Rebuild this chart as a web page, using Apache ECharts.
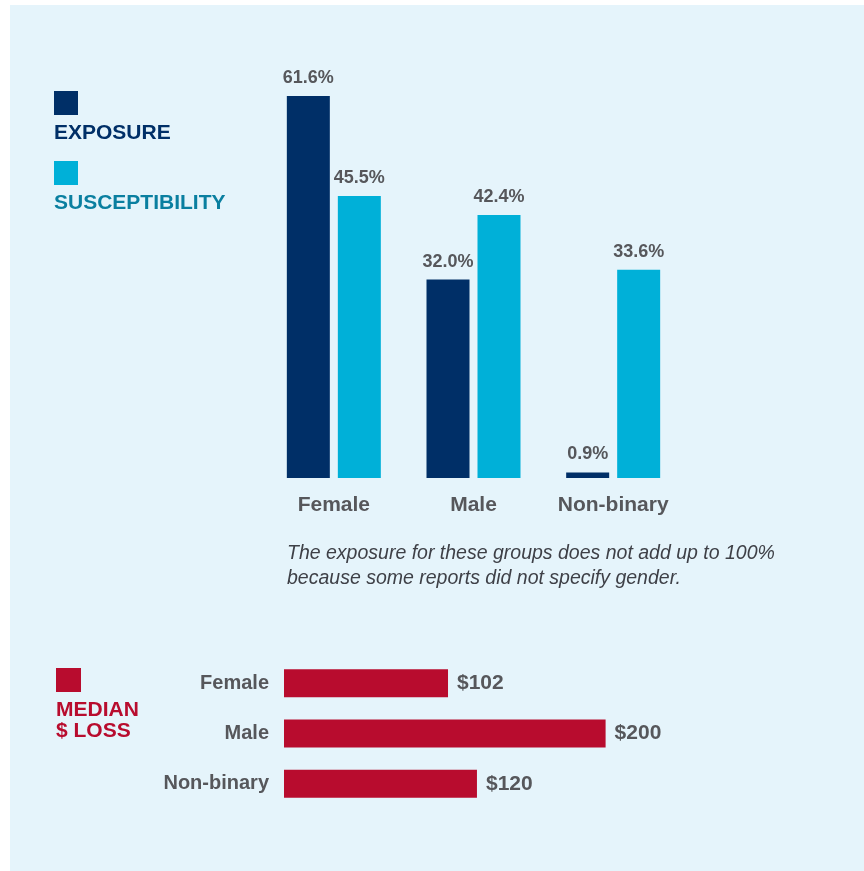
<!DOCTYPE html>
<html>
<head>
<meta charset="utf-8">
<script src="https://cdn.jsdelivr.net/npm/echarts@6/dist/echarts.min.js"></script>
<style>
  html, body { margin: 0; padding: 0; background: #ffffff; }
  #chart { width: 864px; height: 871px; }
</style>
</head>
<body>
<div id="chart"></div>
<script>
// Gender breakdown: exposure and susceptibility (percent)
const groups = ['Female', 'Male', 'Non-binary'];
const exposure = [61.6, 32.0, 0.9];
const susceptibility = [45.5, 42.4, 33.6];

// Median dollar loss by gender
const lossGroups = ['Female', 'Male', 'Non-binary'];
const medianLoss = [102, 200, 120];

const FONT = '"Liberation Sans", Arial, Helvetica, sans-serif';
const NAVY = '#002F67';
const CYAN = '#00B0D8';
const TEAL = '#0A7FA0';
const CRIMSON = '#B80C2E';
const GREY = '#56575B';

const chart = echarts.init(document.getElementById('chart'), null, { renderer: 'canvas' });

chart.setOption({
  backgroundColor: '#ffffff',
  animation: false,
  graphic: [
    { type: 'rect', z: -10, shape: { x: 10, y: 5, width: 854, height: 866 }, style: { fill: '#E5F4FB' } },
    // legend keys for the column chart
    { type: 'rect', shape: { x: 54, y: 91, width: 24, height: 24 }, style: { fill: NAVY } },
    { type: 'text', style: { x: 54, y: 133, text: 'EXPOSURE', font: 'bold 21px ' + FONT, fill: NAVY, textVerticalAlign: 'middle' } },
    { type: 'rect', shape: { x: 54, y: 161, width: 24, height: 24 }, style: { fill: CYAN } },
    { type: 'text', style: { x: 54, y: 203, text: 'SUSCEPTIBILITY', font: 'bold 21px ' + FONT, fill: TEAL, textVerticalAlign: 'middle' } },
    // footnote
    { type: 'text', style: { x: 287, y: 554, text: 'The exposure for these groups does not add up to 100%', font: 'italic 19.5px ' + FONT, fill: '#3E4047', textVerticalAlign: 'middle' } },
    { type: 'text', style: { x: 287, y: 579, text: 'because some reports did not specify gender.', font: 'italic 19.5px ' + FONT, fill: '#3E4047', textVerticalAlign: 'middle' } },
    // legend key for the loss chart
    { type: 'rect', shape: { x: 56, y: 668, width: 25, height: 24 }, style: { fill: CRIMSON } },
    { type: 'text', style: { x: 56, y: 710, text: 'MEDIAN', font: 'bold 21px ' + FONT, fill: CRIMSON, textVerticalAlign: 'middle' } },
    { type: 'text', style: { x: 56, y: 731, text: '$ LOSS', font: 'bold 21px ' + FONT, fill: CRIMSON, textVerticalAlign: 'middle' } }
  ],
  grid: [
    { left: 264, top: 44, width: 419, height: 434 },
    { left: 284, top: 658, width: 402, height: 151 }
  ],
  xAxis: [
    {
      gridIndex: 0, type: 'category', data: groups,
      axisLine: { show: false }, axisTick: { show: false },
      axisLabel: { interval: 0, margin: 17, fontFamily: FONT, fontWeight: 'bold', fontSize: 21, color: GREY }
    },
    {
      gridIndex: 1, type: 'value', min: 0, max: 250, show: false
    }
  ],
  yAxis: [
    { gridIndex: 0, type: 'value', min: 0, max: 70, show: false },
    {
      gridIndex: 1, type: 'category', data: lossGroups, inverse: true,
      axisLine: { show: false }, axisTick: { show: false },
      axisLabel: { interval: 0, margin: 15, fontFamily: FONT, fontWeight: 'bold', fontSize: 20, color: GREY }
    }
  ],
  series: [
    {
      name: 'Exposure', type: 'bar', xAxisIndex: 0, yAxisIndex: 0,
      data: exposure, barWidth: 43, barGap: '18.6%',
      itemStyle: { color: NAVY },
      label: {
        show: true, position: 'top', distance: 9,
        formatter: p => p.value.toFixed(1) + '%',
        fontFamily: FONT, fontWeight: 'bold', fontSize: 18, color: GREY
      }
    },
    {
      name: 'Susceptibility', type: 'bar', xAxisIndex: 0, yAxisIndex: 0,
      data: susceptibility, barWidth: 43, barGap: '18.6%',
      itemStyle: { color: CYAN },
      label: {
        show: true, position: 'top', distance: 9,
        formatter: p => p.value.toFixed(1) + '%',
        fontFamily: FONT, fontWeight: 'bold', fontSize: 18, color: GREY
      }
    },
    {
      name: 'Median loss', type: 'bar', xAxisIndex: 1, yAxisIndex: 1,
      data: medianLoss, barWidth: 28,
      itemStyle: { color: CRIMSON },
      label: {
        show: true, position: 'right', distance: 9,
        formatter: p => '$' + p.value,
        fontFamily: FONT, fontWeight: 'bold', fontSize: 21, color: GREY
      }
    }
  ]
});
</script>
</body>
</html>
